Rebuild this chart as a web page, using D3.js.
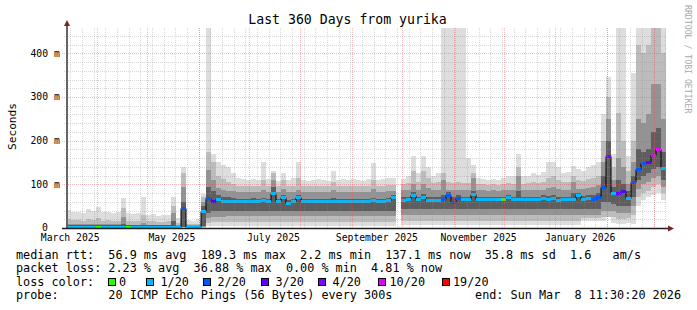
<!DOCTYPE html>
<html>
<head>
<meta charset="utf-8">
<script src="https://cdn.jsdelivr.net/npm/d3@7"></script>
<style>
body { margin: 0; background: #fff; }
svg { display: block; font-family: "DejaVu Sans Mono", monospace; }
text { white-space: pre; }
</style>
</head>
<body>
<svg id="chart" width="697" height="310"></svg>
<script>
// 3-day bins, 120 of them, values in ms (null = no data)
var med = [
	3,3,3,3,3,3,3,3,3,3, 3,3,3,3,3,3,3,3,3,3, 3,3,3,45,3,3,3,
	40,68,62,66,61,
	61,61,61,61,61,62,61,63,61,80, 61,70,58,62,70,62,61,61,61,61, 61,62,61,61,61,61,61,61,61,63, 61,61,63,70,
	null,
	64,66,75,66,70,64,64,65,66,76, 60,68,66,66,77,66,66,66,66,66, 66,70,66,66,66,66,66,66,69,66, 69,63,66,66,66,75,66,68,66,70,
	95,165,80,80,84,68,105,135,148,150,168,180,137
];
// index into lossColors
var loss = [
	1,1,1,1,1,1,0,1,1,1, 1,1,0,1,1,1,1,1,1,1, 1,1,1,2,1,1,1,
	1,2,3,1,1,
	1,1,1,1,1,1,1,1,1,1, 1,1,1,1,1,1,1,1,1,1, 1,1,1,1,1,1,1,1,1,1, 1,1,1,1,
	null,
	1,1,1,1,1,1,1,1,2,2, 2,2,1,1,1,1,1,1,1,1, 0,1,1,1,1,1,1,1,1,1, 1,1,1,1,1,1,1,1,2,2,
	2,4,1,3,3,1,2,2,2,3,5,5,1
];
// smoke bands, outer (1) to inner (4)
var hi1 = [
	41,37,36,35,44,39,48,36,37,35, 36,68,34,33,34,72,30,32,28,30, 30,72,23,139,18,17,20,
	78,600,170,150,145,
	140,125,115,112,110,112,110,150,112,130, 108,127,110,115,152,110,108,110,112,110, 108,130,110,112,110,112,110,108,112,148, 110,112,115,115,
	null,
	112,120,164,125,164,140,120,125,600,600, 600,600,600,160,145,115,112,110,112,110, 115,118,120,170,118,120,125,122,128,150, 152,140,125,128,141,135,130,140,145,150,
	260,345,170,600,600,165,355,600,600,600,600,600,600
];
var hi2 = [
	20,18,18,17,20,18,22,17,18,17, 17,45,16,16,17,30,15,15,14,14, 15,50,12,125,10,10,10,
	70,175,150,120,112,
	105,100,97,97,97,97,97,110,97,125, 97,110,97,97,115,97,97,97,97,97, 97,105,97,97,97,97,97,97,97,110, 97,97,99,99,
	null,
	100,102,130,105,130,115,102,105,125,105, 102,105,102,102,125,100,100,98,100,98, 100,102,100,140,100,102,105,102,105,115, 118,110,105,105,120,110,108,112,115,118,
	200,300,140,264,200,130,200,420,400,420,600,600,400
];
var hi3 = [
	10,9,9,9,10,9,10,9,9,9, 9,25,8,8,8,12,8,8,8,8, 8,35,7,95,6,6,6,
	60,133,110,92,88,
	85,84,82,82,82,82,82,86,82,110, 82,90,82,82,86,82,82,82,82,82, 82,88,82,82,82,82,82,82,82,90, 82,82,84,84,
	null,
	86,87,100,88,100,92,86,88,110,88, 86,88,86,86,115,86,86,85,86,85, 86,87,86,120,86,87,88,87,88,92, 95,90,88,88,105,90,90,92,95,98,
	150,250,110,160,140,100,150,250,240,260,330,330,250
];
var hi4 = [
	6,6,6,6,6,6,6,6,6,6, 6,10,6,6,6,7,6,6,6,6, 6,15,5,60,5,5,5,
	50,95,85,75,72,
	70,68,67,67,67,68,67,68,67,95, 67,76,65,67,76,67,67,67,67,67, 67,68,67,67,67,67,67,67,67,69, 67,67,68,76,
	null,
	71,72,82,72,78,72,71,72,76,82, 70,75,72,72,85,72,71,71,71,71, 71,75,71,85,71,71,72,71,75,74, 76,72,72,72,80,80,74,76,76,80,
	120,200,95,110,100,85,120,180,175,180,220,230,175
];
var lo4 = [
	2.5,2.5,2.5,2.5,2.5,2.5,2.5,2.5,2.5,2.5, 2.5,2.5,2.5,2.5,2.5,2.5,2.5,2.5,2.5,2.5, 2.5,2.5,2.5,2.5,2.5,2.5,2.5,
	4,35,38,40,40,
	40,40,40,40,40,40,40,40,40,40, 40,40,40,40,40,40,40,40,40,40, 40,40,40,40,40,40,40,40,40,40, 40,40,40,40,
	null,
	44,44,44,44,44,44,44,44,44,44, 44,44,44,44,44,44,44,44,44,44, 44,44,44,44,44,44,44,44,44,44, 44,44,44,44,44,44,44,44,44,44,
	60,60,55,50,50,50,70,110,120,125,135,140,110
];
var lo3 = [
	2,2,2,2,2,2,2,2,2,2, 2,2,2,2,2,2,2,2,2,2, 2,2,2,2,2,2,2,
	3,22,25,26,26,
	27,27,27,27,27,27,27,27,27,27, 27,27,27,27,27,27,27,27,27,27, 27,27,27,27,27,27,27,27,27,27, 27,27,27,27,
	null,
	30,30,30,30,30,30,30,30,30,30, 30,30,30,30,30,30,30,30,30,30, 30,30,30,30,30,30,30,30,30,30, 30,30,30,30,30,30,30,30,30,30,
	40,40,40,35,35,35,50,90,100,105,115,120,95
];
var lo2 = [
	1.2,1.2,1.2,1.2,1.2,1.2,1.2,1.2,1.2,1.2, 1.2,1.2,1.2,1.2,1.2,1.2,1.2,1.2,1.2,1.2, 1.2,1.2,1.2,1.2,1.2,1.2,1.2,
	2,12,14,14,14,
	14,14,14,14,14,14,14,14,14,14, 14,14,14,14,14,14,14,14,14,14, 14,14,14,14,14,14,14,14,14,14, 14,14,14,14,
	null,
	17,17,17,17,17,17,17,17,17,17, 17,17,17,17,17,17,17,17,17,17, 17,17,17,17,17,17,17,17,17,17, 17,17,17,17,17,17,22,22,22,22,
	25,25,25,20,20,22,30,70,80,85,95,100,80
];
var lo1 = [
	0.5,0.5,0.5,0.5,0.5,0.5,0.5,0.5,0.5,0.5, 0.5,0.5,0.5,0.5,0.5,0.5,0.5,0.5,0.5,0.5, 0.5,0.5,0.5,0.5,0.5,0.5,0.5,
	1,5,5,5,5,
	5,5,5,5,5,5,5,5,5,5, 5,5,5,5,5,5,5,5,5,5, 5,5,5,5,5,5,5,5,5,5, 5,5,5,5,
	null,
	7,7,7,7,7,7,7,7,7,7, 7,7,7,7,7,7,7,7,7,7, 7,7,7,7,7,7,7,7,7,7, 7,7,7,7,7,7,15,15,15,15,
	15,30,12,10,10,12,10,50,65,70,75,80,65
];

var yTicks = [0, 100, 200, 300, 400];
var lossLabels = ["0", "1/20", "2/20", "3/20", "4/20", "10/20", "19/20"];
var lossColors = ["#26ff00", "#00b8ff", "#0059ff", "#5e00ff", "#7e00ff", "#dd00ff", "#ff0000"];
var legendLines = [
	"median rtt:  56.9 ms avg  189.3 ms max  2.2 ms min  137.1 ms now  35.8 ms sd  1.6   am/s",
	"packet loss: 2.23 % avg  36.88 % max  0.00 % min  4.81 % now",
	"loss color:",
	"probe:       20 ICMP Echo Pings (56 Bytes) every 300s"
];
var endLabel = "end: Sun Mar  8 11:30:20 2026";

var endTime = Date.UTC(2026, 2, 8, 11, 30, 20);
var startTime = endTime - 360 * 864e5;
var binDays = 3;
var nBins = med.length;

function binTime(i) {
	return new Date(startTime + i * binDays * 864e5);
}

var svg = d3.select("#chart");
var x = d3.scaleUtc().domain([new Date(startTime), new Date(endTime)]).range([66, 666]);
var y = d3.scaleLinear().domain([0, 458]).range([228, 28]);

svg.append("rect").attr("width", 697).attr("height", 310).attr("fill", "#fff");
svg.append("clipPath").attr("id", "clip")
	.append("rect").attr("x", 66).attr("y", 28).attr("width", 600).attr("height", 200);

// smoke
var bands = [
	{lo: lo1, hi: hi1, color: "#dddddd"},
	{lo: lo2, hi: hi2, color: "#bcbcbc"},
	{lo: lo3, hi: hi3, color: "#939393"},
	{lo: lo4, hi: hi4, color: "#5e5e5e"}
];
var plot = svg.append("g").attr("clip-path", "url(#clip)");
bands.forEach(function (b) {
	plot.append("g")
		.attr("fill", b.color)
		.attr("shape-rendering", "crispEdges")
		.selectAll("rect")
		.data(d3.range(nBins).filter(function (i) { return b.hi[i] != null; }))
		.join("rect")
		.attr("x", function (i) { return x(binTime(i)); })
		.attr("width", function (i) { return x(binTime(i + 1)) - x(binTime(i)); })
		.attr("y", function (i) { return y(b.hi[i]); })
		.attr("height", function (i) { return y(b.lo[i]) - y(b.hi[i]); });
});

// grid
var minorColor = "rgba(143,143,143,0.35)";
var majorColor = "rgba(222,79,79,0.38)";
var grid = svg.append("g").attr("shape-rendering", "crispEdges").attr("stroke-dasharray", "1,1");
var minorY = d3.range(20, 458, 20).filter(function (v) { return v % 100 != 0; });
grid.selectAll("line.hmin").data(minorY).join("line")
	.attr("x1", 64).attr("x2", 666)
	.attr("y1", function (v) { return Math.round(y(v)) + 0.5; })
	.attr("y2", function (v) { return Math.round(y(v)) + 0.5; })
	.attr("stroke", minorColor);
var weeks = d3.utcSunday.range(new Date(startTime), new Date(endTime));
grid.selectAll("line.vmin").data(weeks).join("line")
	.attr("x1", function (d) { return Math.round(x(d)) + 0.5; })
	.attr("x2", function (d) { return Math.round(x(d)) + 0.5; })
	.attr("y1", 28).attr("y2", 228)
	.attr("stroke", minorColor);
grid.selectAll("line.hmaj").data(yTicks.slice(1)).join("line")
	.attr("x1", 62).attr("x2", 666)
	.attr("y1", function (v) { return Math.round(y(v)) + 0.5; })
	.attr("y2", function (v) { return Math.round(y(v)) + 0.5; })
	.attr("stroke", majorColor);
var months = d3.utcMonth.range(new Date(startTime), new Date(endTime));
grid.selectAll("line.vmaj").data(months).join("line")
	.attr("x1", function (d) { return Math.round(x(d)) + 0.5; })
	.attr("x2", function (d) { return Math.round(x(d)) + 0.5; })
	.attr("y1", 28).attr("y2", 228)
	.attr("stroke", majorColor);

// median line
var medPts = [];
med.forEach(function (v, i) {
	medPts.push({t: binTime(i), v: v});
	medPts.push({t: binTime(i + 1), v: v});
});
plot.append("path")
	.datum(medPts)
	.attr("fill", "none")
	.attr("stroke", "#000")
	.attr("stroke-width", 1)
	.attr("d", d3.line()
		.defined(function (d) { return d.v != null; })
		.x(function (d) { return x(d.t); })
		.y(function (d) { return Math.round(y(d.v)) + 0.5; }));
plot.append("g").attr("shape-rendering", "crispEdges")
	.selectAll("rect")
	.data(d3.range(nBins).filter(function (i) { return med[i] != null; }))
	.join("rect")
	.attr("x", function (i) { return x(binTime(i)); })
	.attr("width", function (i) { return x(binTime(i + 1)) - x(binTime(i)); })
	.attr("y", function (i) { return Math.round(y(med[i])) - 1; })
	.attr("height", 3)
	.attr("fill", function (i) { return lossColors[loss[i]]; });

// axes
svg.append("line").attr("x1", 67).attr("x2", 67).attr("y1", 229).attr("y2", 22)
	.attr("stroke", "#666").attr("stroke-width", 2);
svg.append("line").attr("x1", 62).attr("x2", 668).attr("y1", 228.5).attr("y2", 228.5)
	.attr("stroke", "#1f1f1f").attr("stroke-width", 1.5);
svg.append("path").attr("d", "M64,26L70,26L67,20Z").attr("fill", "#801f1f");
svg.append("path").attr("d", "M668,225.5L668,231.5L674,228.5Z").attr("fill", "#801f1f");

// axis labels
svg.append("g").attr("font-size", "9.75px").attr("text-anchor", "end")
	.selectAll("text").data(yTicks).join("text")
	.attr("x", function (v) { return v == 0 ? 47.8 : 59.8; })
	.attr("y", function (v) { return y(v) + 3.4; })
	.text(function (v) { return v == 0 ? "0" : v + " m"; });

var labelMonths = d3.utcMonth.every(2).range(d3.utcMonth.floor(new Date(startTime)), new Date(endTime))
	.filter(function (d) { return x(d3.utcDay.offset(d, 15)) < 666; });
svg.append("g").attr("font-size", "9.75px").attr("text-anchor", "middle")
	.selectAll("text").data(labelMonths).join("text")
	.attr("x", function (d) { return x(d3.utcDay.offset(d, 15)); })
	.attr("y", 241)
	.text(d3.utcFormat("%B %Y"));

svg.append("text").attr("x", 347.5).attr("y", 23.5).attr("font-size", "13.2px")
	.attr("text-anchor", "middle").text("Last 360 Days from yurika");
svg.append("text").attr("transform", "translate(16,126.5) rotate(-90)")
	.attr("font-size", "11.2px").attr("text-anchor", "middle").text("Seconds");
svg.append("text").attr("transform", "translate(684.5,5) rotate(90)")
	.attr("font-size", "8.2px").attr("fill", "#aaaaaa").text("RRDTOOL / TOBI OETIKER");

// legend
var legY = [258.5, 272, 285.7, 299.3];
var leg = svg.append("g").attr("font-size", "11.8px");
legendLines.forEach(function (s, i) {
	leg.append("text").attr("x", 16).attr("y", legY[i]).text(s);
});
leg.append("text").attr("x", 681).attr("y", legY[3]).attr("text-anchor", "end").text(endLabel);

var boxX = [108, 146, 203, 261, 318, 378, 442];
var labelDx = [11, 14.5, 14.5, 14.5, 14.5, 11.5, 11];
lossLabels.forEach(function (l, i) {
	leg.append("rect").attr("x", boxX[i] + 0.5).attr("y", 278.5).attr("width", 7).attr("height", 7)
		.attr("fill", lossColors[i]).attr("stroke", "#000").attr("stroke-width", 1);
	leg.append("text").attr("x", boxX[i] + labelDx[i]).attr("y", legY[2]).text(l);
});
</script>
</body>
</html>
